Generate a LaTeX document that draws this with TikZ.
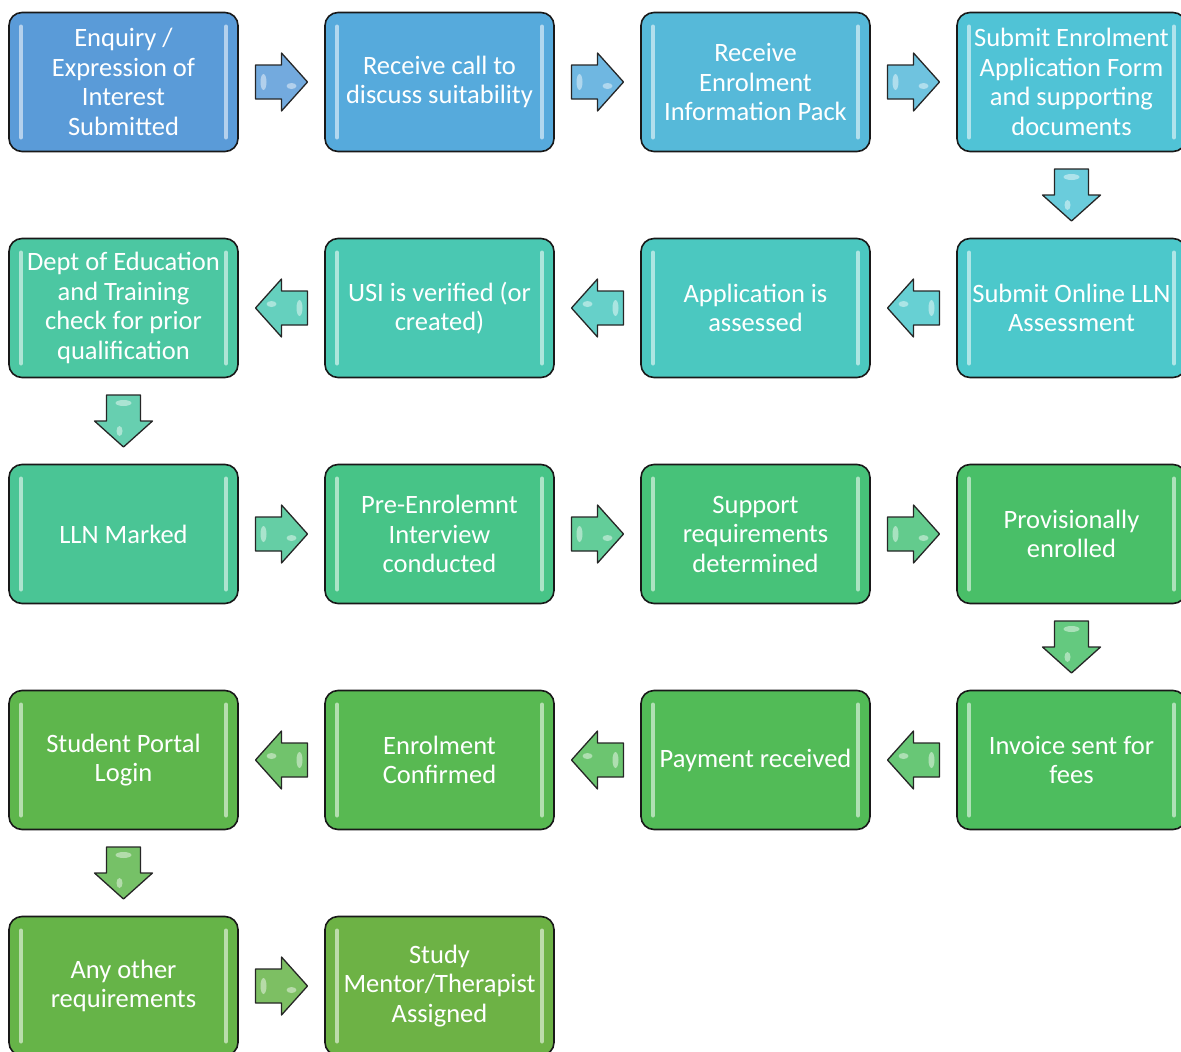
\documentclass[tikz,border=0pt]{standalone}
\usepackage{fontspec}
\setmainfont{Carlito}
\usepackage{tikz}
\usetikzlibrary{calc}

\definecolor{c1}{HTML}{5A9BD8}
\definecolor{c2}{HTML}{56AADC}
\definecolor{c3}{HTML}{56B9D9}
\definecolor{c4}{HTML}{50C3D6}
\definecolor{c5}{HTML}{4CC8CB}
\definecolor{c6}{HTML}{4BC8C0}
\definecolor{c7}{HTML}{4AC8B2}
\definecolor{c8}{HTML}{4CC7A2}
\definecolor{c9}{HTML}{4AC595}
\definecolor{c10}{HTML}{47C487}
\definecolor{c11}{HTML}{47C279}
\definecolor{c12}{HTML}{49BF68}
\definecolor{c13}{HTML}{4DBD5E}
\definecolor{c14}{HTML}{52BB57}
\definecolor{c15}{HTML}{58B952}
\definecolor{c16}{HTML}{5EB64C}
\definecolor{c17}{HTML}{66B448}
\definecolor{c18}{HTML}{6DB245}

\tikzset{
  blkarrow/.pic={
    \draw[line width=1.3pt, draw=black!85, fill=#1!85!white, line join=round]
      (-26pt,-17pt) -- (0pt,-17pt) -- (0pt,-29pt) -- (26pt,0pt) -- (0pt,29pt) -- (0pt,17pt) -- (-26pt,17pt) -- cycle;
    \fill[white, opacity=0.45] (-18pt,0pt) ellipse (3pt and 8pt);
    \fill[white, opacity=0.45] (10pt,-4pt) ellipse (5pt and 3pt);
  }
}

\begin{document}
\begin{tikzpicture}[node distance={316pt}, stage/.style = {draw=black!90, line width=1.6pt, rounded corners=13pt, minimum width=229pt, minimum height=139pt, inner sep=0pt, text=white, align=center, font=\fontsize{26.5}{29.5}\selectfont, path picture={
      \draw[white, opacity=0.55, line width=4pt, line cap=round] ([xshift=12pt,yshift=-14pt]path picture bounding box.north west) -- ([xshift=12pt,yshift=14pt]path picture bounding box.south west);
      \draw[white, opacity=0.55, line width=4pt, line cap=round] ([xshift=-12pt,yshift=-14pt]path picture bounding box.north east) -- ([xshift=-12pt,yshift=14pt]path picture bounding box.south east);}}]
    \useasboundingbox (0pt,0pt) rectangle (1181pt,-1052pt);

    \node[stage, fill=c1] (enq) at (123.5pt,-82pt) {Enquiry /\\Expression of\\Interest\\Submitted};
    \node[stage, fill=c2] (call) [right of = enq] {Receive call to\\discuss suitability};
    \node[stage, fill=c3] (pack) [right of = call] {Receive\\Enrolment\\Information Pack};
    \node[stage, fill=c4] (submit) [right of = pack] {Submit Enrolment\\Application Form\\and supporting\\documents};
    \node[stage, fill=c5] (lln) [node distance=226pt, below of = submit] {Submit Online LLN\\Assessment};
    \node[stage, fill=c6] (assess) [left of = lln] {Application is\\assessed};
    \node[stage, fill=c7] (usi) [left of = assess] {USI is verified (or\\created)};
    \node[stage, fill=c8] (dept) [left of = usi] {Dept of Education\\and Training\\check for prior\\qualification};
    \node[stage, fill=c9] (marked) [node distance=226pt, below of = dept] {LLN Marked};
    \node[stage, fill=c10] (interview) [right of = marked] {Pre-Enrolemnt\\Interview\\conducted};
    \node[stage, fill=c11] (support) [right of = interview] {Support\\requirements\\determined};
    \node[stage, fill=c12] (prov) [right of = support] {Provisionally\\enrolled};
    \node[stage, fill=c13] (invoice) [node distance=226pt, below of = prov] {Invoice sent for\\fees};
    \node[stage, fill=c14] (payment) [left of = invoice] {Payment received};
    \node[stage, fill=c15] (confirmed) [left of = payment] {Enrolment\\Confirmed};
    \node[stage, fill=c16] (portal) [left of = confirmed] {Student Portal\\Login};
    \node[stage, fill=c17] (other) [node distance=226pt, below of = portal] {Any other\\requirements};
    \node[stage, fill=c18] (mentor) [right of = other] {Study\\Mentor/Therapist\\Assigned};

    \pic at ($(enq.east)!0.5!(call.west)$) {blkarrow=c1};
    \pic at ($(call.east)!0.5!(pack.west)$) {blkarrow=c2};
    \pic at ($(pack.east)!0.5!(submit.west)$) {blkarrow=c3};
    \pic[rotate=-90] at ($(submit.south)!0.5!(lln.north)$) {blkarrow=c4};
    \pic[rotate=180] at ($(lln.west)!0.5!(assess.east)$) {blkarrow=c5};
    \pic[rotate=180] at ($(assess.west)!0.5!(usi.east)$) {blkarrow=c6};
    \pic[rotate=180] at ($(usi.west)!0.5!(dept.east)$) {blkarrow=c7};
    \pic[rotate=-90] at ($(dept.south)!0.5!(marked.north)$) {blkarrow=c8};
    \pic at ($(marked.east)!0.5!(interview.west)$) {blkarrow=c9};
    \pic at ($(interview.east)!0.5!(support.west)$) {blkarrow=c10};
    \pic at ($(support.east)!0.5!(prov.west)$) {blkarrow=c11};
    \pic[rotate=-90] at ($(prov.south)!0.5!(invoice.north)$) {blkarrow=c12};
    \pic[rotate=180] at ($(invoice.west)!0.5!(payment.east)$) {blkarrow=c13};
    \pic[rotate=180] at ($(payment.west)!0.5!(confirmed.east)$) {blkarrow=c14};
    \pic[rotate=180] at ($(confirmed.west)!0.5!(portal.east)$) {blkarrow=c15};
    \pic[rotate=-90] at ($(portal.south)!0.5!(other.north)$) {blkarrow=c16};
    \pic at ($(other.east)!0.5!(mentor.west)$) {blkarrow=c17};
  \end{tikzpicture}
\end{document}
